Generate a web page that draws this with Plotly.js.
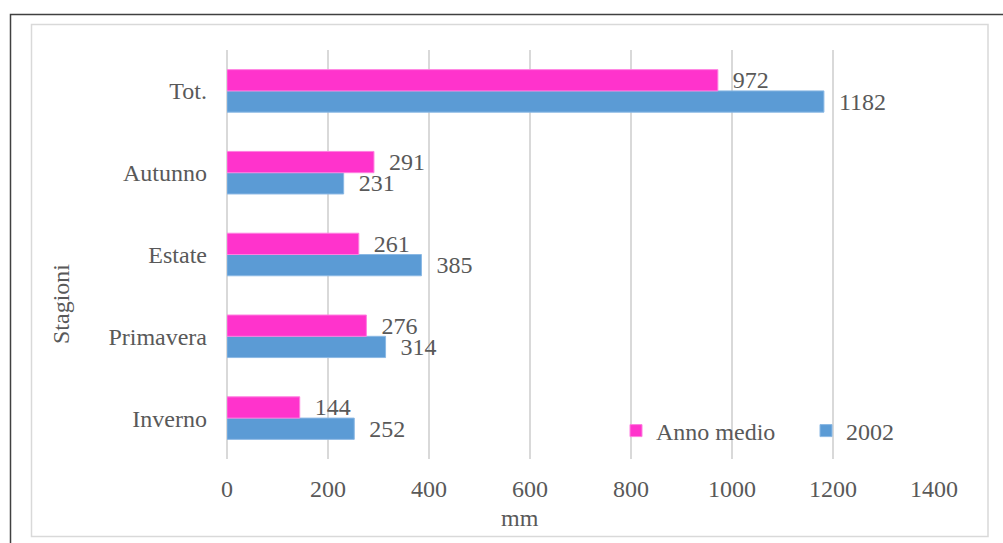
<!DOCTYPE html>
<html>
<head>
<meta charset="utf-8">
<script src="https://cdn.plot.ly/plotly-3.0.1.min.js"></script>
<style>
  html, body { margin: 0; padding: 0; background: #ffffff; }
  #chart { width: 1003px; height: 543px; }
</style>
</head>
<body>
<div id="chart"></div>
<script>
// Seasonal rainfall (mm): long-term average year vs. 2002
const stagioni = ['Inverno', 'Primavera', 'Estate', 'Autunno', 'Tot.'];
const annoMedio = [144, 276, 261, 291, 972];
const anno2002 = [252, 314, 385, 231, 1182];
const xTicks = [0, 200, 400, 600, 800, 1000, 1200, 1400];

const W = 1003, H = 543;
const margin = { l: 227, r: 69, t: 50, b: 84, autoexpand: false };
const plotW = W - margin.l - margin.r;
const plotH = H - margin.t - margin.b;
const px = x => (x - margin.l) / plotW;          // page x -> paper x
const py = y => 1 - (y - margin.t) / plotH;       // page y -> paper y

const FONT = '"Liberation Serif", "Times New Roman", serif';
const FS = 24;
const GREY = '#595959';
const GRID = '#d9d9d9';
const PAD = '\u00a0\u00a0';

const traces = [
  {
    type: 'bar', orientation: 'h', name: '2002',
    y: stagioni, x: anno2002,
    marker: { color: '#5b9bd5', line: { color: '#8ab8e4', width: 1 } },
    texttemplate: PAD + '%{x}', textposition: 'outside',
    constraintext: 'none', cliponaxis: false,
    textfont: { family: FONT, size: FS, color: GREY },
    hoverinfo: 'x+name'
  },
  {
    type: 'bar', orientation: 'h', name: 'Anno medio',
    y: stagioni, x: annoMedio,
    marker: { color: '#ff33cc', line: { color: '#ff7fe0', width: 1 } },
    texttemplate: PAD + '%{x}', textposition: 'outside',
    constraintext: 'none', cliponaxis: false,
    textfont: { family: FONT, size: FS, color: GREY },
    hoverinfo: 'x+name'
  }
];

const layout = {
  width: W, height: H,
  margin: margin,
  paper_bgcolor: '#ffffff', plot_bgcolor: '#ffffff',
  font: { family: FONT, size: FS, color: GREY },
  barmode: 'group', bargap: 0.48, bargroupgap: 0,
  showlegend: true,
  legend: {
    orientation: 'h', traceorder: 'reversed',
    x: px(616), y: py(431), xanchor: 'left', yanchor: 'middle',
    bgcolor: 'rgba(0,0,0,0)', borderwidth: 0,
    font: { family: FONT, size: FS, color: GREY },
    entrywidth: 145, entrywidthmode: 'pixels'
  },
  xaxis: {
    range: [0, 1400], tickvals: xTicks, ticktext: xTicks.map(String),
    showgrid: true, gridcolor: GRID, gridwidth: 1.5,
    zeroline: true, zerolinecolor: GRID, zerolinewidth: 1.5,
    showline: false, ticks: '', ticklabelstandoff: 13,
    tickfont: { family: FONT, size: FS, color: GREY },
    fixedrange: true
  },
  yaxis: {
    type: 'category', categoryorder: 'array', categoryarray: stagioni,
    showgrid: false, zeroline: false, showline: false, ticks: '',
    ticklabelstandoff: 19,
    tickfont: { family: FONT, size: FS, color: GREY },
    fixedrange: true
  },
  annotations: [
    { text: 'mm', xref: 'paper', yref: 'paper', x: px(520), y: py(518),
      xanchor: 'center', yanchor: 'middle', showarrow: false,
      font: { family: FONT, size: FS, color: GREY } },
    { text: 'Stagioni', xref: 'paper', yref: 'paper', x: px(61), y: py(304),
      xanchor: 'center', yanchor: 'middle', textangle: -90, showarrow: false,
      font: { family: FONT, size: FS, color: GREY } }
  ],
  shapes: [
    // outer frame
    { type: 'rect', xref: 'paper', yref: 'paper', layer: 'below',
      x0: px(10.5), x1: px(1015), y0: py(14.5), y1: py(560),
      line: { color: '#404040', width: 1.5 }, fillcolor: 'rgba(0,0,0,0)' },
    // chart area border
    { type: 'rect', xref: 'paper', yref: 'paper', layer: 'below',
      x0: px(31.5), x1: px(988), y0: py(24.5), y1: py(536.5),
      line: { color: GRID, width: 1.5 }, fillcolor: 'rgba(0,0,0,0)' }
  ]
};

Plotly.newPlot('chart', traces, layout, { displayModeBar: false, staticPlot: true });
</script>
</body>
</html>
